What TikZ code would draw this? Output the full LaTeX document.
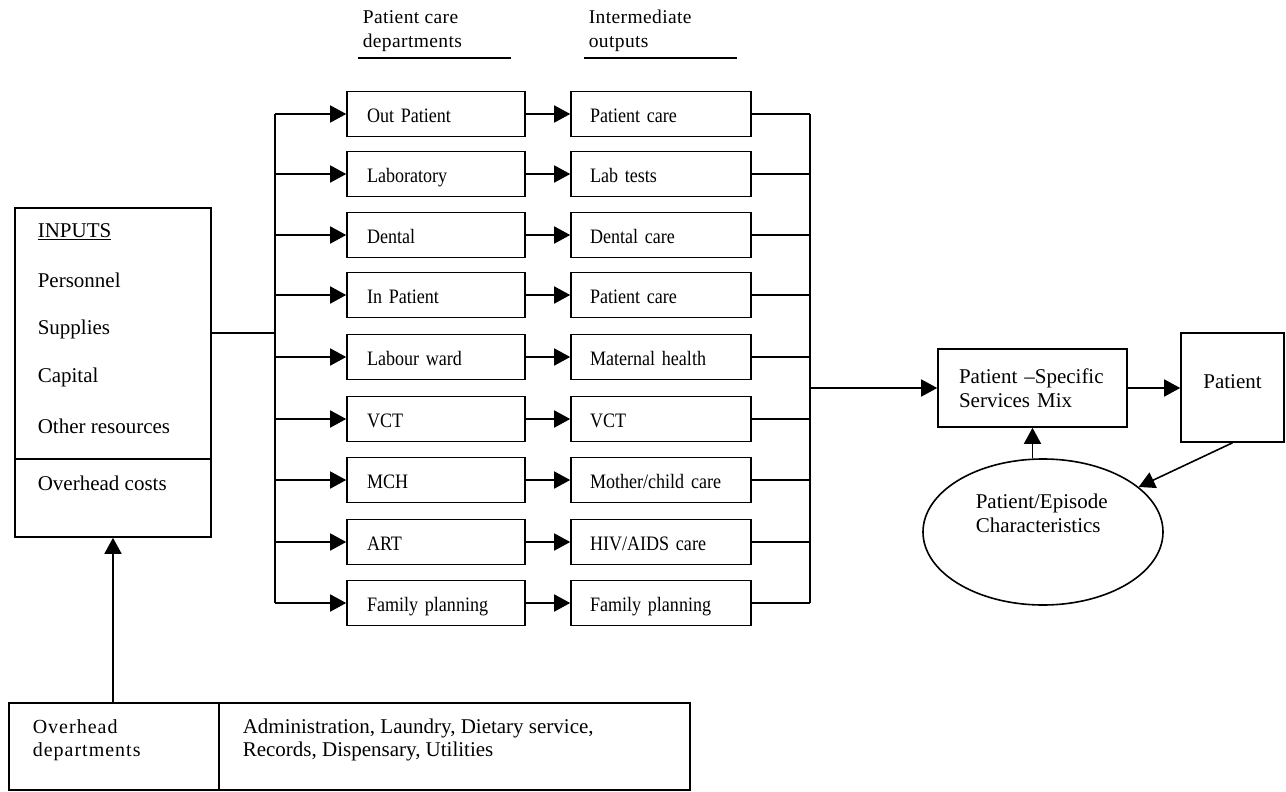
\documentclass[tikz,border=0pt]{standalone}
\usepackage{fontspec}
\setmainfont{Liberation Serif}
\usetikzlibrary{arrows.meta,shapes.geometric}
\begin{document}
\begin{tikzpicture}[x=1pt,y=-1pt,line width=1.6pt,
  every node/.style={font=\fontsize{21}{23.5}\selectfont},
  boxfont/.style={font=\fontsize{20.5}{23}\selectfont\addfontfeatures{FakeStretch=0.88}},
  dbox/.style={draw,line width=1.6pt,inner ysep=0pt,inner xsep=20pt,minimum height=45pt,text width=138pt,align=left,
    boxfont,text height=16pt,text depth=0pt},
  obox/.style={draw,line width=1.6pt,inner ysep=0pt,inner xsep=19pt,minimum height=45pt,text width=142pt,align=left,
    boxfont,text height=16pt,text depth=0pt},
  plain/.style={inner sep=0pt,align=left},
  hdr/.style={inner sep=0pt,align=left,font=\fontsize{19.5}{24}\selectfont\addfontfeatures{LetterSpace=2}},
  arr/.style={-{Triangle[length=16pt,width=17pt]}},
  hline/.style={line width=2.4pt}]
\useasboundingbox (0,0) rectangle (1286,792);

% headers
\node[hdr,anchor=west] (h1) at (362,31) {Patient care\\departments};
\node[hdr,anchor=west] (h2) at (588,31) {Intermediate\\outputs};
\coordinate (u1a) at (358,58); \coordinate (u1b) at (511,58);
\coordinate (u2a) at (584,58); \coordinate (u2b) at (737,58);
\draw[hline] (u1a) -- (u1b);
\draw[hline] (u2a) -- (u2b);

% department boxes
\node[dbox] (d1) at (436,114) {Out Patient};
\node[dbox] (d2) at (436,174) {Laboratory};
\node[dbox] (d3) at (436,235) {Dental};
\node[dbox] (d4) at (436,295) {In Patient};
\node[dbox] (d5) at (436,357) {Labour ward};
\node[dbox] (d6) at (436,419) {VCT};
\node[dbox] (d7) at (436,480) {MCH};
\node[dbox] (d8) at (436,542) {ART};
\node[dbox] (d9) at (436,603) {Family planning};

% output boxes
\node[obox] (o1) at (661,114) {Patient care};
\node[obox] (o2) at (661,174) {Lab tests};
\node[obox] (o3) at (661,235) {Dental care};
\node[obox] (o4) at (661,295) {Patient care};
\node[obox] (o5) at (661,357) {Maternal health};
\node[obox] (o6) at (661,419) {VCT};
\node[obox] (o7) at (661,480) {Mother/child care};
\node[obox] (o8) at (661,542) {HIV/AIDS care};
\node[obox] (o9) at (661,603) {Family planning};

% inputs box
\node[draw,minimum width=196pt,minimum height=329pt,inner sep=0pt] (inputs) at (113,372.5) {};
\coordinate (div) at (113,459);
\draw (inputs.west |- div) -- (inputs.east |- div);
\node[plain,anchor=west] (t1) at (37,232) {\underline{INPUTS}};
\node[plain,anchor=west] (t2) at (37,280) {Personnel};
\node[plain,anchor=west] (t3) at (37,329) {Supplies};
\node[plain,anchor=west] (t4) at (37,377) {Capital};
\node[plain,anchor=west] (t5) at (37,426) {Other resources};
\node[plain,anchor=west] (t6) at (37,483) {Overhead costs};

% overhead departments
\node[draw,minimum width=210pt,minimum height=87pt,inner sep=0pt] (od1) at (114,746.5) {};
\node[draw,minimum width=471pt,minimum height=87pt,inner sep=0pt] (od2) at (454.5,746.5) {};
\node[plain,anchor=west,font=\fontsize{20}{23}\selectfont\addfontfeatures{LetterSpace=5}] (odt1) at (32,740) {Overhead\\departments};
\node[plain,anchor=west] (odt2) at (242,740) {Administration, Laundry, Dietary service,\\Records, Dispensary, Utilities};

% right side
\node[draw,minimum width=189pt,minimum height=78pt,inner xsep=21pt,inner ysep=0pt,text width=147pt,align=left] (mix) at (1032.5,388) {Patient \textendash Specific\\Services Mix};
\node[draw,minimum width=103pt,minimum height=109pt,inner sep=0pt] (pat) at (1232.5,387.5) {};
\node[plain] (patt) at (1232.5,382) {Patient};
\node[draw,ellipse,minimum width=240pt,minimum height=146pt,inner sep=0pt] (chr) at (1043,532) {};
\node[plain,anchor=west] (chrt) at (975,513.5) {Patient/Episode\\Characteristics};

% left bus
\coordinate (busL) at (275,333);
\draw (inputs.east |- busL) -- (busL);
\draw (busL |- d1.west) -- (busL |- d9.west);
\foreach \i in {1,...,9} {\draw[arr] (busL |- d\i.west) -- (d\i.west);}

% dept -> output
\foreach \i in {1,...,9} {\draw[arr] (d\i.east) -- (o\i.west);}

% right bus
\coordinate (busR) at (810,388);
\foreach \i in {1,...,9} {\draw (o\i.east) -- (busR |- o\i.east);}
\draw (busR |- o1.east) -- (busR |- o9.east);
\draw[arr] (busR) -- (mix.west);

\draw[arr] (mix.east) -- (pat.west |- mix.east);
\draw[arr] (chr.north -| mix.south) -- (mix.south);
\draw[arr] (pat.south) -- (chr);

% overhead arrow
\draw[arr] (inputs.south |- od1.north) -- (inputs.south);
\end{tikzpicture}
\end{document}
